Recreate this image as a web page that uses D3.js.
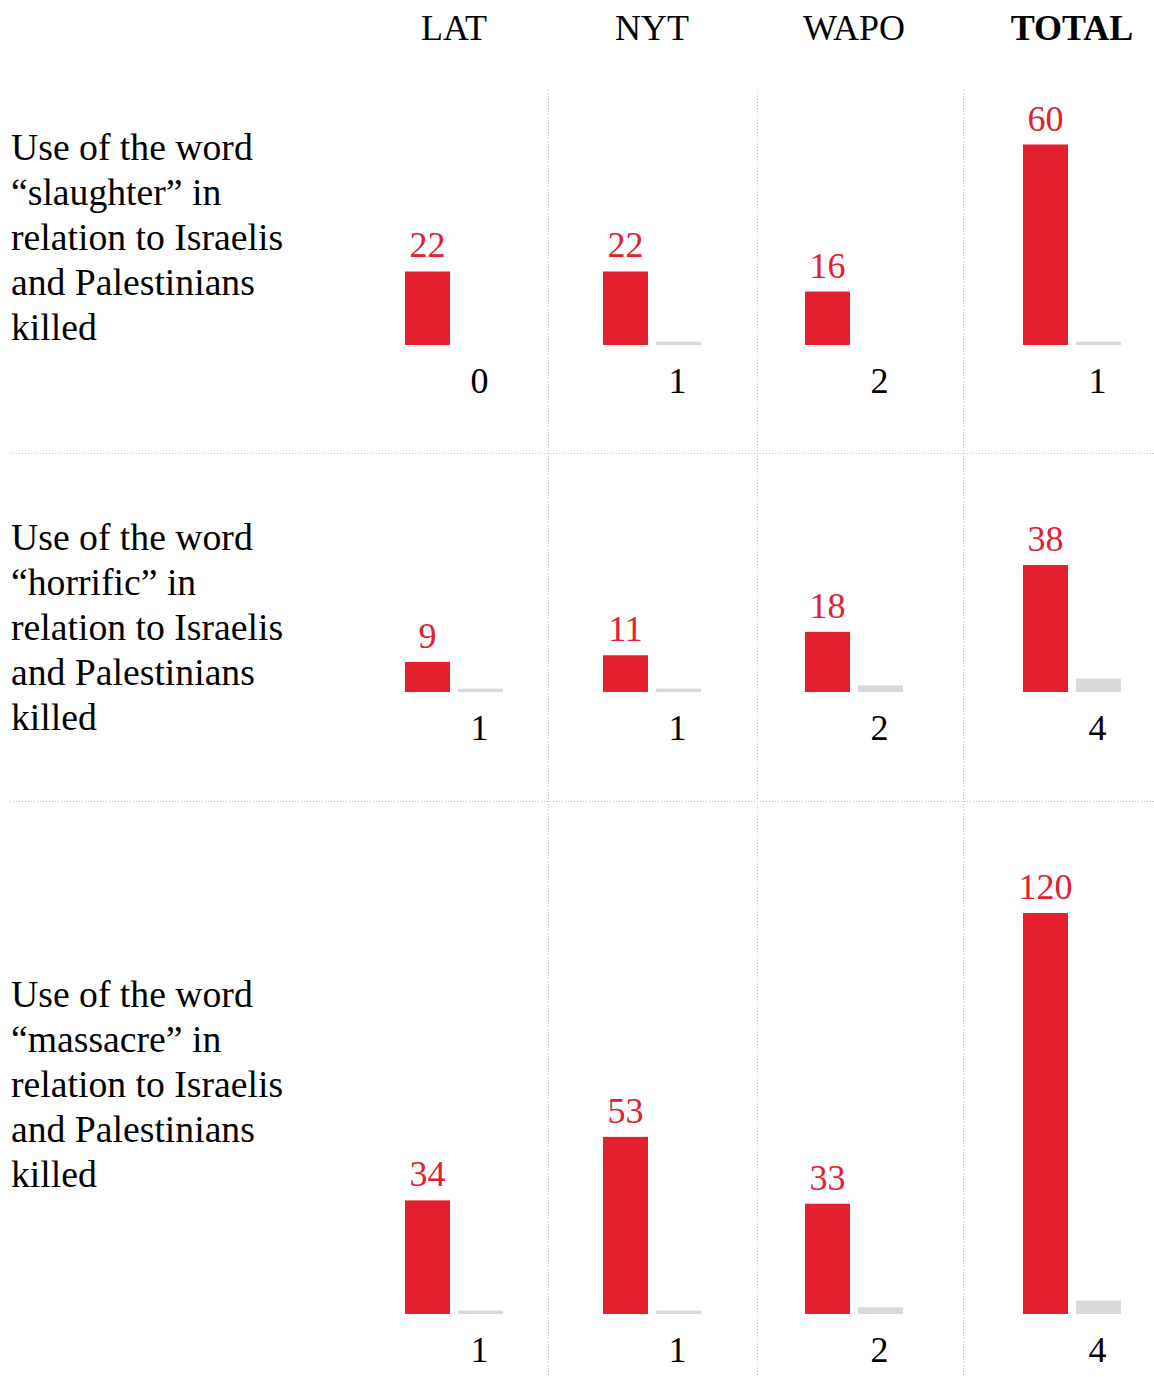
<!DOCTYPE html>
<html>
<head>
<meta charset="utf-8">
<script src="https://cdn.jsdelivr.net/npm/d3@7"></script>
<style>
  body { margin: 0; background: #fff; }
  svg text { font-family: "Liberation Serif", "Times New Roman", serif; }
</style>
</head>
<body>
<svg id="chart"></svg>
<script>
// outlets and counts
const outlets = ["LAT", "NYT", "WAPO", "TOTAL"];
const words = ["slaughter", "horrific", "massacre"];
// red bars: Israelis killed
const israelis = [
    [22, 22, 16, 60],
    [9, 11, 18, 38],
    [34, 53, 33, 120]
];
// grey numbers: Palestinians killed
const palestinians = [
    [0, 1, 2, 1],
    [1, 1, 2, 4],
    [1, 1, 2, 4]
];
// grey bars as drawn (WAPO slaughter bar is missing in the original)
const palestinianBars = [
    [0, 1, 0, 1],
    [1, 1, 2, 4],
    [1, 1, 2, 4]
];

const width = 1154;
const height = 1377;
const red = "#e4202f";
const grey = "#d9d9d9";

const svg = d3.select("#chart").attr("width", width).attr("height", height);

// layout
const barX = d3.scaleOrdinal().domain(outlets).range([405, 603, 805, 1023]);
const dividers = [548, 757, 963];
const rowLines = [453, 801];
const baselines = [345, 692, 1314];
const labelTop = [160, 550, 1007];
const barW = 45;
const greyOff = 53;

const y = d3.scaleLinear().domain([0, 120]).range([0, 401]);

// grid
svg.append("g")
    .selectAll("line")
    .data(dividers)
    .enter()
    .append("line")
    .attr("x1", d => d + 0.5).attr("x2", d => d + 0.5)
    .attr("y1", 90).attr("y2", height)
    .attr("stroke", "#bbb")
    .attr("stroke-width", 1)
    .attr("stroke-dasharray", "1,2");

svg.append("g")
    .selectAll("line")
    .data(rowLines)
    .enter()
    .append("line")
    .attr("x1", 10).attr("x2", width)
    .attr("y1", d => d + 0.5).attr("y2", d => d + 0.5)
    .attr("stroke", "#bbb")
    .attr("stroke-width", 1)
    .attr("stroke-dasharray", "1,2");

// header
svg.append("g")
    .selectAll("text")
    .data(outlets)
    .enter()
    .append("text")
    .attr("x", d => barX(d) + 49)
    .attr("y", 40)
    .attr("text-anchor", "middle")
    .attr("font-size", 36)
    .attr("font-weight", d => d == "TOTAL" ? "bold" : "normal")
    .attr("fill", "#000")
    .text(d => d);

// rows
words.forEach((w, r) => {
    const lines = ["Use of the word", "\u201c" + w + "\u201d in", "relation to Israelis", "and Palestinians", "killed"];
    svg.append("g")
        .selectAll("text")
        .data(lines)
        .enter()
        .append("text")
        .attr("x", 11)
        .attr("y", (d, i) => labelTop[r] + i * 45)
        .attr("font-size", 37.7)
        .attr("fill", "#000")
        .text(d => d);

    const base = baselines[r];
    const g = svg.append("g");
    const cells = outlets.map((o, i) => ({
        o,
        a: israelis[r][i],
        b: palestinians[r][i],
        bb: palestinianBars[r][i]
    }));

    g.selectAll(".red")
        .data(cells)
        .enter()
        .append("rect")
        .attr("x", d => barX(d.o))
        .attr("y", d => base - y(d.a))
        .attr("width", barW)
        .attr("height", d => y(d.a))
        .attr("fill", red);

    g.selectAll(".grey")
        .data(cells)
        .enter()
        .append("rect")
        .attr("x", d => barX(d.o) + greyOff)
        .attr("y", d => base - y(d.bb))
        .attr("width", barW)
        .attr("height", d => y(d.bb))
        .attr("fill", grey);

    g.selectAll(".rl")
        .data(cells)
        .enter()
        .append("text")
        .attr("x", d => barX(d.o) + barW / 2)
        .attr("y", d => base - y(d.a) - 14)
        .attr("text-anchor", "middle")
        .attr("font-size", 36)
        .attr("fill", red)
        .text(d => d.a);

    g.selectAll(".gl")
        .data(cells)
        .enter()
        .append("text")
        .attr("x", d => barX(d.o) + greyOff + barW / 2 - 1)
        .attr("y", base + 48)
        .attr("text-anchor", "middle")
        .attr("font-size", 36)
        .attr("fill", "#000")
        .text(d => d.b);
});
</script>
</body>
</html>
